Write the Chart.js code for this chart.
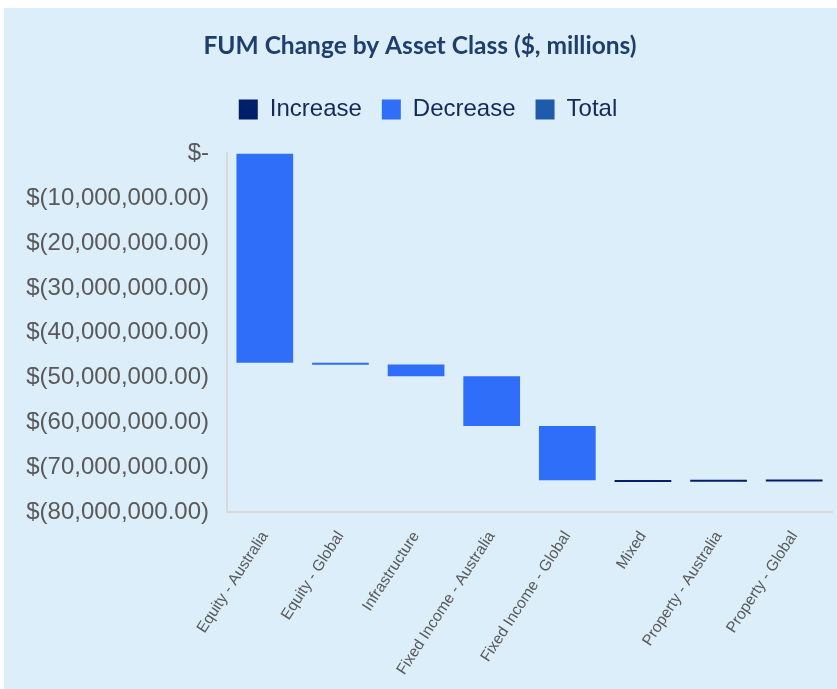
<!DOCTYPE html>
<html>
<head>
<meta charset="utf-8">
<script src="https://cdn.jsdelivr.net/npm/chart.js@4.4.0/dist/chart.umd.min.js"></script>
<style>
  html, body { margin: 0; padding: 0; background: #ffffff; }
  #wrap { position: absolute; left: 4px; top: 8px; width: 833px; height: 681px; background: #dbeef9; }
  canvas { display: block; }
</style>
</head>
<body>
<div id="wrap"><canvas id="grafico" width="833" height="681"></canvas></div>
<script>
// categorias e variações (em dólares)
const categorias = [
    'Equity - Australia', 'Equity - Global', 'Infrastructure',
    'Fixed Income - Australia', 'Fixed Income - Global', 'Mixed',
    'Property - Australia', 'Property - Global'
];
const variacoes = [-46700000, -400000, -2600000, -11100000, -12100000, 50000, 50000, 50000];
const yTicks = [0, -10000000, -20000000, -30000000, -40000000, -50000000, -60000000, -70000000, -80000000];

// monta as barras flutuantes da cascata
let acumulado = 0;
const barrasAumento = [];
const barrasQueda = [];
const barrasTotal = [];
for (let i = 0; i < variacoes.length; i++) {
    const inicio = acumulado;
    acumulado += variacoes[i];
    if (variacoes[i] >= 0) {
        barrasAumento.push([inicio, acumulado]);
        barrasQueda.push(null);
    } else {
        barrasAumento.push(null);
        barrasQueda.push([inicio, acumulado]);
    }
    barrasTotal.push(null);
}

function formatarDolar(v) {
    if (v === 0) return '$-';
    const s = Math.abs(v).toLocaleString('en-US', { minimumFractionDigits: 2, maximumFractionDigits: 2 });
    return v < 0 ? '$(' + s + ')' : '$' + s;
}

// espaço extra abaixo da legenda e pequeno deslocamento para a direita
const ajusteLegenda = {
    id: 'ajusteLegenda',
    beforeInit(chart) {
        const legenda = chart.legend;
        const fitOriginal = legenda.fit;
        legenda.fit = function () {
            fitOriginal.bind(legenda)();
            this.height += 22;
        };
        const drawOriginal = legenda.draw;
        legenda.draw = function () {
            const c = chart.ctx;
            c.save();
            c.translate(8, 0);
            drawOriginal.bind(legenda)();
            c.restore();
        };
    }
};

const ctx = document.getElementById('grafico').getContext('2d');
new Chart(ctx, {
    type: 'bar',
    data: {
        labels: categorias,
        datasets: [
            { label: 'Increase', data: barrasAumento, backgroundColor: '#001f6b' },
            { label: 'Decrease', data: barrasQueda, backgroundColor: '#2e6ef9' },
            { label: 'Total', data: barrasTotal, backgroundColor: '#1f5aab' }
        ]
    },
    options: {
        responsive: false,
        animation: false,
        layout: { padding: { left: 4, right: 5, top: 0, bottom: 0 } },
        datasets: {
            bar: { grouped: false, categoryPercentage: 1, barPercentage: 0.75, minBarLength: 2, borderSkipped: false }
        },
        plugins: {
            title: {
                display: true,
                text: 'FUM Change by Asset Class ($, millions)',
                color: '#1d3e6e',
                font: { family: 'Lato', size: 24.5, weight: 'bold' },
                padding: { top: 23, bottom: 17 }
            },
            legend: {
                position: 'top',
                labels: {
                    boxWidth: 19,
                    boxHeight: 20,
                    padding: 20,
                    color: '#13285e',
                    font: { family: 'Liberation Sans', size: 24 }
                }
            },
            tooltip: { enabled: false }
        },
        scales: {
            x: {
                grid: { display: false },
                border: { display: true, color: '#d9d9d9', width: 2 },
                ticks: {
                    minRotation: 57,
                    maxRotation: 57,
                    labelOffset: 0,
                    padding: 8,
                    color: '#595959',
                    font: { family: 'Liberation Sans', size: 15.5 }
                },
                afterFit(scale) { scale.height = 177; }
            },
            y: {
                min: -80000000,
                max: 0,
                grid: { display: false },
                border: { display: true, color: '#d9d9d9', width: 2 },
                afterBuildTicks(scale) { scale.ticks = yTicks.map(v => ({ value: v })); },
                ticks: {
                    padding: 10,
                    color: '#595959',
                    font: { family: 'Liberation Sans', size: 24 },
                    callback: function (value) { return formatarDolar(value); }
                },
                afterFit(scale) { scale.width = 219; }
            }
        }
    },
    plugins: [ajusteLegenda]
});
</script>
</body>
</html>
